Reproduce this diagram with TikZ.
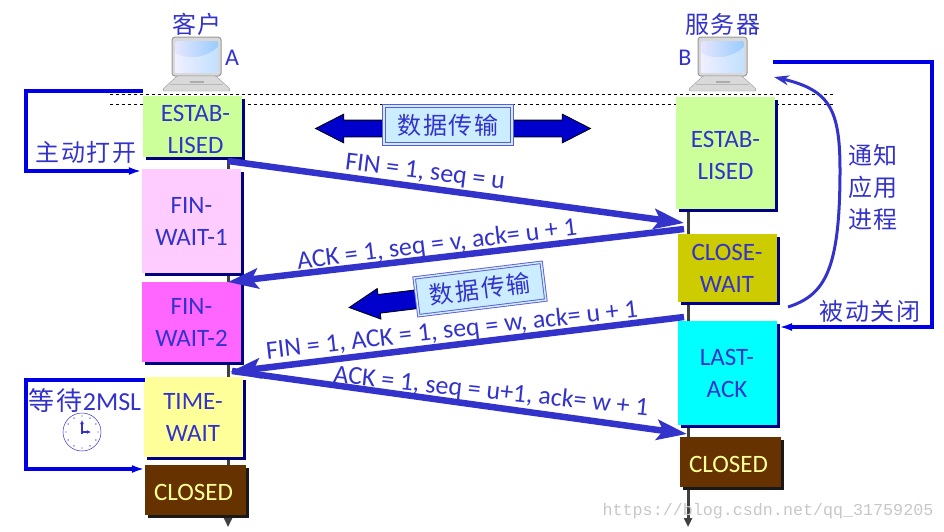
\documentclass[tikz,border=0pt]{standalone}
\usepackage{fontspec}
\setmainfont{Carlito}
\newfontfamily\cjk[LetterSpace=8]{Noto Sans CJK SC}
\usepackage{xcolor}
\usepackage{tikz}
\usetikzlibrary{arrows.meta, shadows, shapes.arrows}
\definecolor{textblue}{HTML}{3333CC}
\definecolor{loopblue}{HTML}{0000E6}
\definecolor{arrowblue}{HTML}{0000CC}
\definecolor{labelfill}{HTML}{CCECFF}
\definecolor{navyshade}{HTML}{000080}
\definecolor{estabgreen}{HTML}{CCFF99}
\definecolor{finpink}{HTML}{FFCCFF}
\definecolor{finmagenta}{HTML}{FF66FF}
\definecolor{waityellow}{HTML}{FFFF99}
\definecolor{closeolive}{HTML}{CCCC00}
\definecolor{lastcyan}{HTML}{00FFFF}
\definecolor{closedbrown}{HTML}{663300}

\tikzset{
  laptop/.pic={
    \fill[rounded corners=3pt, draw=gray!80, fill=gray!30, line width=1pt] (0,0) rectangle (49,39);
    \shade[rounded corners=2pt, left color=blue!10, right color=blue!50!cyan!40] (3,4) rectangle (46,36);
    \fill[white, opacity=.4] (3,36) -- (3,16) .. controls (18,24) and (35,20) .. (46,10) -- (46,36) -- cycle;
    \fill[draw=gray!80, fill=gray!30, rounded corners=1pt] (5,39) -- (44,39) -- (58,52) -- (58,54) -- (-9,54) -- (-9,52) -- cycle;
    \fill[gray!55] (-2,47) rectangle (51,48);
    \fill[gray!65] (18,44) rectangle (32,46);
  },
  clockface/.pic={
    \draw[textblue, line width=.5pt] (0,0) circle (19);
    \foreach \a in {0,30,...,330} \fill[textblue] (\a:16) circle (.7);
    \draw[textblue, line width=1.5pt, -{Latex[length=4pt,width=4pt]}] (0,2) -- (0,-12);
    \draw[textblue, line width=1.5pt, -{Latex[length=4pt,width=4pt]}] (-1,0) -- (9,0);
  }
}

\begin{document}
\begin{tikzpicture}[x=1pt, y=-1pt]
\tikzstyle{statebox}=[minimum width=99pt, inner sep=0pt, align=center, text=textblue, font=\fontsize{25}{32}\selectfont, drop shadow={shadow xshift=3pt, shadow yshift=-3pt, fill=navyshade, opacity=1}]
\tikzstyle{closedbox}=[statebox, minimum width=101pt, minimum height=50pt, fill=closedbrown, text=waityellow, drop shadow={shadow xshift=3pt, shadow yshift=-3pt, fill=black!90, opacity=1}]
\tikzstyle{msg}=[textblue, line width=6.5pt, -{Stealth[length=30pt, width=20pt, inset=6pt]}]
\tikzstyle{msglabel}=[text=textblue, inner sep=0pt, font=\fontsize{26}{30}\selectfont]
\tikzstyle{hint}=[text=textblue, inner sep=0pt, align=center, font=\fontsize{24}{32}\selectfont\cjk]
\tikzstyle{loopline}=[loopblue, line width=3.5pt, -{Latex[length=13pt, width=8pt]}]
\tikzstyle{lifeline}=[black!75, line width=3pt, -{Triangle[length=9pt, width=8pt]}]
\tikzstyle{databox}=[fill=labelfill, draw=textblue!80, double=labelfill, double distance=1.5pt, line width=.9pt, minimum width=128pt, minimum height=38pt, inner sep=0pt, text=textblue, font=\fontsize{24}{28}\selectfont\cjk]
\useasboundingbox (0,0) rectangle (944,531);

\coordinate (topA) at (228,98);
\coordinate (endA) at (228,527);
\coordinate (topB) at (688,98);
\coordinate (endB) at (688,527);
\draw[lifeline] (topA) -- (endA);
\draw[lifeline] (topB) -- (endB);

\draw[dashed, line width=.6pt] (110,94.5) -- (835,94.5);
\draw[dashed, line width=.6pt] (110,104.5) -- (835,104.5);

\node[statebox, fill=estabgreen, minimum height=61pt] (estabA) at (192.5,126.5) {\rule{0pt}{22pt}\hspace*{6pt}ESTAB-\\\hspace*{6pt}LISED};
\node[statebox, fill=finpink, minimum height=104pt] (fin1) at (191.5,221) {FIN-\\WAIT-1};
\node[statebox, fill=finmagenta, minimum height=80pt] (fin2) at (191.5,322) {FIN-\\WAIT-2};
\node[statebox, fill=waityellow, minimum height=80pt] (timewait) at (193,417) {TIME-\\WAIT};
\node[closedbox] (closedA) at (195.5,490) {\rule{0pt}{22pt}CLOSED\hspace{4pt}};

\node[statebox, fill=estabgreen, minimum height=112pt] (estabB) at (725.5,153) {\rule{0pt}{22pt}ESTAB-\\LISED};
\node[statebox, fill=closeolive, minimum height=68pt] (closewait) at (727,268) {CLOSE-\\WAIT};
\node[statebox, fill=lastcyan, minimum height=104pt] (lastack) at (727,373) {LAST-\\ACK};
\node[closedbox] (closedB) at (730.5,461.5) {\rule{0pt}{22pt}CLOSED\hspace{4pt}};

\pic at (172,37) {laptop};
\pic at (698,37) {laptop};
\node[hint] (client) at (197,24) {客户};
\node[hint] (server) at (723,24) {服务器};
\node[msglabel, font=\fontsize{24}{30}\selectfont] (nameA) at (232,58) {A};
\node[msglabel, font=\fontsize{24}{30}\selectfont] (nameB) at (685,58) {B};

\node[double arrow, fill=arrowblue, draw=black, line width=.8pt, minimum width=28pt, minimum height=275pt, inner sep=0pt, double arrow head extend=6pt, double arrow head indent=0pt, double arrow tip angle=54] (databoth) at (453,128.5) {\rule{0pt}{16pt}};
\node[databox] (data1) at (448,125) {数据传输};

\node[single arrow, fill=arrowblue, draw=black, line width=.8pt, minimum width=30pt, minimum height=72pt, inner sep=0pt, single arrow head extend=6pt, single arrow head indent=0pt, single arrow tip angle=54, rotate=187] (dataleft) at (394,302) {\rule{0pt}{18pt}};
\node[databox, rotate=7] (data2) at (480,289) {数据传输};

\coordinate (s1) at (228,161);
\coordinate (e1) at (684,223);
\coordinate (s2) at (684,229);
\coordinate (e2) at (228,282);
\coordinate (s3) at (684,317);
\coordinate (e3) at (230,372);
\coordinate (s4) at (232,371);
\coordinate (e4) at (687,434);
\path
(s1) edge[msg] (e1)
(s2) edge[msg] (e2)
(s3) edge[msg] (e3)
(s4) edge[msg] (e4);

\node[msglabel, rotate=-7] (lab1) at (425,173) {FIN = 1, seq = u};
\node[msglabel, rotate=7] (lab2) at (437,245) {ACK = 1, seq = v, ack= u + 1};
\node[msglabel, rotate=6.5] (lab3) at (452,331) {FIN = 1, ACK = 1, seq = w, ack= u + 1};
\node[msglabel, rotate=-6] (lab4) at (491,392) {ACK = 1, seq = u+1, ack= w + 1};

\coordinate (openA) at (143,91);
\coordinate (openB) at (26,91);
\coordinate (openC) at (26,171);
\draw[loopline] (openA) -- (openB) -- (openC) -- (fin1.north west |- openC);
\coordinate (waitA) at (145,380);
\coordinate (waitB) at (26,380);
\coordinate (waitC) at (26,469);
\draw[loopline] (waitA) -- (waitB) -- (waitC) -- (closedA.west |- waitC);
\coordinate (closeA) at (773,62);
\coordinate (closeB) at (932,62);
\coordinate (closeC) at (932,327);
\coordinate (closeD) at (779,327);
\draw[loopline] (closeA) -- (closeB) -- (closeC) -- (closeD);

\coordinate (notifyA) at (788,307);
\coordinate (notifyB) at (840,170);
\coordinate (notifyC) at (774,77);
\draw[textblue, line width=3pt, -{Stealth[length=15pt, width=10pt]}] (notifyA) .. controls (825,295) and (840,270) .. (notifyB) .. controls (840,110) and (830,90) .. (notifyC);

\node[hint] (active) at (86,152) {主动打开};
\node[hint] (passive) at (870,311) {被动关闭};
\node[hint] (notify) at (873,187) {通知\\应用\\进程};
\node[msglabel] (wait) at (85,401) {{\cjk 等待}2MSL};
\pic at (82,432) {clockface};

\node[inner sep=0pt, text=black!22, font=\fontsize{16.7}{20}\selectfont\fontspec{Liberation Mono}] (mark) at (768,511) {https://blog.csdn.net/qq\_31759205};
\end{tikzpicture}
\end{document}
